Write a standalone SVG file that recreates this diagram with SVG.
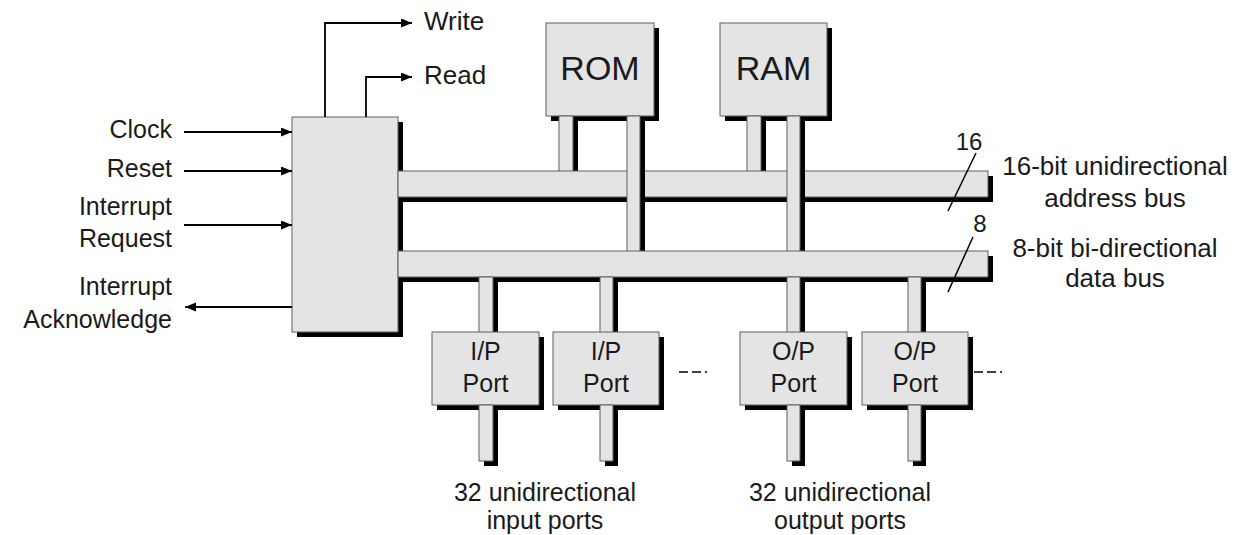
<svg xmlns="http://www.w3.org/2000/svg" width="1239" height="535" viewBox="0 0 1239 535">
<style>
.sh{fill:#000}
.bx{fill:#e4e4e4;stroke:#5e5e5e;stroke-width:1}
.t{font-family:"Liberation Sans",Arial,sans-serif;font-size:25px;fill:#1a1a1a}
.m{font-size:26px}
.big{font-size:34px}
.num{font-size:24px}
.ln{fill:none;stroke:#000;stroke-width:1.8}
.sl{fill:none;stroke:#000;stroke-width:1.5}
.dash{fill:none;stroke:#000;stroke-width:1.6;stroke-dasharray:9 4 9 4 2}
</style>
<defs>
<marker id="ah" markerUnits="userSpaceOnUse" markerWidth="12" markerHeight="10" refX="11" refY="4.5" orient="auto">
<path d="M0,0 L11,4.5 L0,9 z" fill="#000"/>
</marker>
</defs>
<rect width="1239" height="535" fill="#fff"/>

<g id="cpu">
<rect class="sh" x="297" y="122" width="106" height="215"/>
<rect class="bx" x="292" y="117" width="106" height="215"/>
</g>

<g id="rom">
<rect class="sh" x="551" y="28" width="108" height="93"/>
<rect class="bx" x="546" y="23" width="108" height="93"/>
<text class="t big" x="600" y="80" text-anchor="middle">ROM</text>
</g>

<g id="ram">
<rect class="sh" x="725" y="28" width="107" height="93"/>
<rect class="bx" x="720" y="23" width="107" height="93"/>
<text class="t big" x="773.5" y="80" text-anchor="middle">RAM</text>
</g>

<g id="memory-address-links">
<rect class="sh" x="564" y="121" width="14" height="59"/>
<rect class="bx" x="559" y="116" width="14" height="59"/>
<rect class="sh" x="752" y="121" width="14" height="59"/>
<rect class="bx" x="747" y="116" width="14" height="59"/>
</g>

<g id="address-bus">
<rect class="sh" x="403" y="176" width="590" height="26"/>
<rect class="bx" x="398" y="171" width="590" height="26"/>
</g>

<g id="memory-data-links">
<rect class="sh" x="632" y="121" width="13" height="139"/>
<rect class="bx" x="627" y="116" width="13" height="139"/>
<rect class="sh" x="792" y="121" width="13" height="139"/>
<rect class="bx" x="787" y="116" width="13" height="139"/>
</g>

<g id="data-bus">
<rect class="sh" x="403" y="256" width="590" height="26"/>
<rect class="bx" x="398" y="251" width="590" height="26"/>
</g>

<g id="port-bus-links">
<rect class="sh" x="484" y="282" width="14" height="57"/>
<rect class="bx" x="479" y="277" width="14" height="57"/>
<rect class="sh" x="605" y="282" width="13" height="57"/>
<rect class="bx" x="600" y="277" width="13" height="57"/>
<rect class="sh" x="792" y="282" width="13" height="57"/>
<rect class="bx" x="787" y="277" width="13" height="57"/>
<rect class="sh" x="913" y="282" width="13" height="57"/>
<rect class="bx" x="908" y="277" width="13" height="57"/>
</g>

<g id="ip-port-1">
<rect class="sh" x="437" y="337" width="107" height="73"/>
<rect class="bx" x="432" y="332" width="107" height="73"/>
<text class="t" x="485.5" y="360" text-anchor="middle">I/P</text>
<text class="t" x="485.5" y="392" text-anchor="middle">Port</text>
</g>
<g id="ip-port-2">
<rect class="sh" x="558" y="337" width="106" height="73"/>
<rect class="bx" x="553" y="332" width="106" height="73"/>
<text class="t" x="606" y="360" text-anchor="middle">I/P</text>
<text class="t" x="606" y="392" text-anchor="middle">Port</text>
</g>
<g id="op-port-1">
<rect class="sh" x="745" y="337" width="107" height="73"/>
<rect class="bx" x="740" y="332" width="107" height="73"/>
<text class="t" x="793.5" y="360" text-anchor="middle">O/P</text>
<text class="t" x="793.5" y="392" text-anchor="middle">Port</text>
</g>
<g id="op-port-2">
<rect class="sh" x="867" y="337" width="106" height="73"/>
<rect class="bx" x="862" y="332" width="106" height="73"/>
<text class="t" x="915" y="360" text-anchor="middle">O/P</text>
<text class="t" x="915" y="392" text-anchor="middle">Port</text>
</g>

<g id="port-outputs">
<rect class="sh" x="484" y="410" width="14" height="56"/>
<rect class="bx" x="479" y="405" width="14" height="56"/>
<rect class="sh" x="605" y="410" width="13" height="56"/>
<rect class="bx" x="600" y="405" width="13" height="56"/>
<rect class="sh" x="792" y="410" width="13" height="56"/>
<rect class="bx" x="787" y="405" width="13" height="56"/>
<rect class="sh" x="913" y="410" width="13" height="56"/>
<rect class="bx" x="908" y="405" width="13" height="56"/>
</g>

<g id="connectors">
<path class="ln" d="M325,117 V23 H412" marker-end="url(#ah)"/>
<path class="ln" d="M366,117 V77 H412" marker-end="url(#ah)"/>
<path class="ln" d="M184,132 H292" marker-end="url(#ah)"/>
<path class="ln" d="M184,171 H292" marker-end="url(#ah)"/>
<path class="ln" d="M184,225 H292" marker-end="url(#ah)"/>
<path class="ln" d="M292,307 H185" marker-end="url(#ah)"/>
<path class="sl" d="M948,211 L976,153"/>
<path class="sl" d="M948,292 L973,237"/>
<path class="dash" d="M679,372 H707"/>
<path class="dash" d="M974,372 H1002"/>
</g>

<g id="labels">
<text class="t m" x="424" y="30">Write</text>
<text class="t m" x="424" y="84">Read</text>
<text class="t" x="172" y="138" text-anchor="end">Clock</text>
<text class="t" x="172" y="177" text-anchor="end">Reset</text>
<text class="t" x="172" y="215" text-anchor="end">Interrupt</text>
<text class="t" x="172" y="247" text-anchor="end">Request</text>
<text class="t" x="172" y="295" text-anchor="end">Interrupt</text>
<text class="t" x="172" y="328" text-anchor="end">Acknowledge</text>
<text class="t num" x="969" y="150" text-anchor="middle">16</text>
<text class="t num" x="980" y="232" text-anchor="middle">8</text>
<text class="t m" x="1115" y="175" text-anchor="middle">16-bit unidirectional</text>
<text class="t m" x="1115" y="207" text-anchor="middle">address bus</text>
<text class="t m" x="1115" y="257" text-anchor="middle">8-bit bi-directional</text>
<text class="t m" x="1115" y="287" text-anchor="middle">data bus</text>
<text class="t" x="545" y="501" text-anchor="middle">32 unidirectional</text>
<text class="t" x="545" y="529" text-anchor="middle">input ports</text>
<text class="t" x="840" y="501" text-anchor="middle">32 unidirectional</text>
<text class="t" x="840" y="529" text-anchor="middle">output ports</text>
</g>
</svg>
